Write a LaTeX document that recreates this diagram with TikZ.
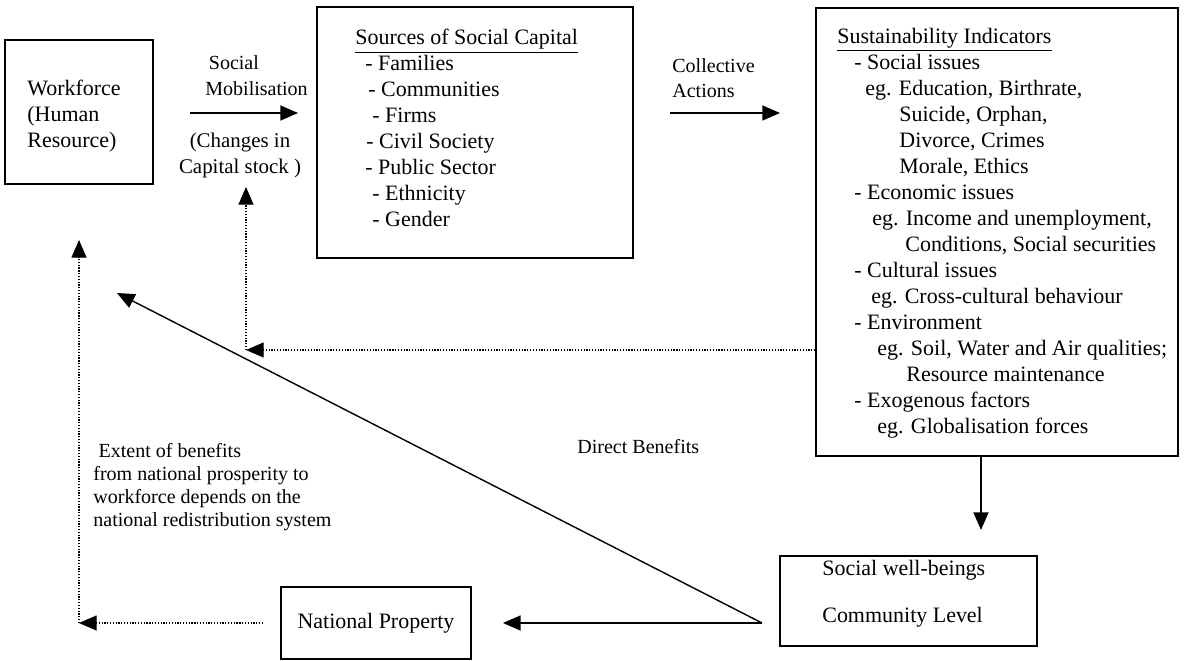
\documentclass[tikz,border=0pt]{standalone}
\usepackage{fontspec}
\setmainfont{Liberation Serif}
\usepackage{tikz}
\usetikzlibrary{arrows.meta}

\begin{document}
\begin{tikzpicture}[scale=0.2]
\tikzstyle{every node}+=[inner sep=0pt]
\tikzstyle{box}=[draw=black, line width=0.8pt]
\tikzstyle{big}=[font=\fontsize{12.5}{14.8}\selectfont]
\tikzstyle{small}=[font=\fontsize{11.4}{13.1}\selectfont]
\tikzstyle{arr}=[black, line width=0.8pt, -{Triangle[length=10pt,width=8.5pt]}]
\tikzstyle{dots}=[arr, line width=0.6pt, dash pattern=on 0.7pt off 0.9pt]
\useasboundingbox (0,0) rectangle (118.8,-66.1);
% boxes
\node [box, minimum width=2.96cm, minimum height=2.88cm] (work) at (7.9,-11.2) {};
\node [box, minimum width=6.32cm, minimum height=5.02cm] (src) at (47.5,-13.25) {};
\node [box, minimum width=7.24cm, minimum height=8.96cm] (sust) at (99.7,-23.2) {};
\node [box, minimum width=5.14cm, minimum height=1.8cm] (well) at (90.85,-60.1) {};
\node [box, big, minimum width=3.8cm, minimum height=1.44cm] (natprop) at (37.6,-62.3) {National Property};
% texts
\node [big, align=left, anchor=north west] (worktxt) at (2.7,-8.0) {Workforce\\(Human\\Resource)};
\node [small, font=\fontsize{11.4}{14.8}\selectfont, align=left, anchor=north west] (mob) at (20.5,-5.5) {\hspace*{2pt}Social\\Mobilisation};
\node [small, font=\fontsize{11.9}{14.8}\selectfont, align=center, anchor=north] (chg) at (24.0,-13.3) {(Changes in\\Capital stock )};
\node [big, align=left, anchor=north west] (srctxt) at (35.5,-2.9) {\underline{Sources of Social Capital}\\
\hspace*{5.7pt}- Families\\
\hspace*{7.4pt}- Communities\\
\hspace*{9.7pt}- Firms\\
\hspace*{6.3pt}- Civil Society\\
\hspace*{5.7pt}- Public Sector\\
\hspace*{9.7pt}- Ethnicity\\
\hspace*{9.7pt}- Gender};
\node [small, font=\fontsize{11.4}{14.2}\selectfont, align=left, anchor=north west] (coll) at (67.2,-5.8) {Collective\\Actions};
\node [big, align=left, anchor=north west] (susttxt) at (83.7,-2.8) {\underline{Sustainability Indicators}\\
\hspace*{9.7pt}- Social issues\\
\hspace*{15.9pt}eg. Education, Birthrate,\\
\hspace*{35.3pt}Suicide, Orphan,\\
\hspace*{35.3pt}Divorce, Crimes\\
\hspace*{35.3pt}Morale, Ethics\\
\hspace*{9.7pt}- Economic issues\\
\hspace*{19.9pt}eg. Income and unemployment,\\
\hspace*{38.7pt}Conditions, Social securities\\
\hspace*{9.7pt}- Cultural issues\\
\hspace*{19.3pt}eg. Cross-cultural behaviour\\
\hspace*{9.7pt}- Environment\\
\hspace*{22.8pt}eg. Soil, Water and Air qualities;\\
\hspace*{39.3pt}Resource maintenance\\
\hspace*{9.7pt}- Exogenous factors\\
\hspace*{22.8pt}eg. Globalisation forces};
\node [small, anchor=west] (direct) at (57.7,-44.7) {Direct Benefits};
\node [small, align=left, anchor=north west] (extent) at (9.3,-44.3) {\hspace*{3pt}Extent of benefits\\
from national prosperity to\\
workforce depends on the\\
national redistribution system};
\node [big, anchor=west] (wellA) at (82.2,-57.0) {Social well-beings};
\node [big, anchor=west] (wellB) at (82.2,-61.7) {Community Level};
% connectors
\coordinate (mobS) at (19.0,-11.3);
\coordinate (mobE) at (29.8,-11.3);
\coordinate (collS) at (67.0,-11.3);
\coordinate (collE) at (78.0,-11.3);
\coordinate (wellIn) at (98.1,-53.0);
\coordinate (fork) at (76.2,-62.3);
\coordinate (propIn) at (50.3,-62.3);
\coordinate (workIn) at (11.7,-29.3);
\coordinate (loopA) at (24.6,-35.0);
\coordinate (loopB) at (24.6,-18.7);
\coordinate (propOut) at (26.3,-62.3);
\coordinate (redist) at (7.9,-62.3);
\coordinate (workUp) at (7.9,-24.0);
\draw [arr] (mobS) -- (mobE);
\draw [arr] (collS) -- (collE);
\draw [arr] (wellIn |- sust.south) -- (wellIn);
\draw [arr] (fork) -- (propIn);
\draw [arr] (fork) -- (workIn);
\draw [dots] (sust.west |- loopA) -- (loopA);
\draw [dots] (loopA) -- (loopB);
\draw [dots] (propOut) -- (redist);
\draw [dots] (redist) -- (workUp);
\end{tikzpicture}
\end{document}
